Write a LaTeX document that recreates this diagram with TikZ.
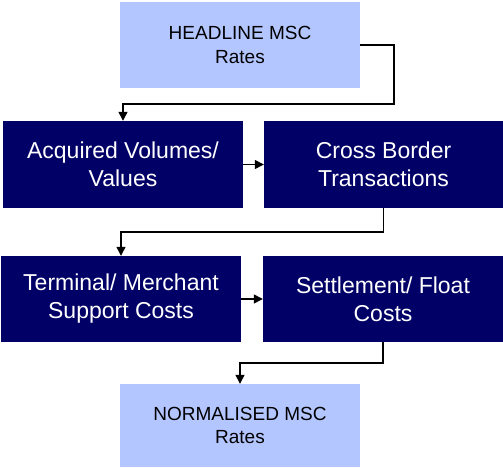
\documentclass[tikz,border=0pt]{standalone}
\usepackage{fontspec}
\setmainfont{Liberation Sans}
\usetikzlibrary{arrows.meta}
\definecolor{navybox}{HTML}{000066}
\definecolor{lightbox}{HTML}{B3C6FF}
\begin{document}
\begin{tikzpicture}[x=1pt,y=-1pt,
  darkbox/.style={rectangle,fill=navybox,text=white,inner sep=0pt,align=center,
    minimum width=240pt,minimum height=87pt,font=\fontsize{23}{28}\selectfont},
  lightbx/.style={rectangle,fill=lightbox,text=black,inner sep=0pt,align=center,
    minimum width=240pt,minimum height=86pt,font=\fontsize{19}{23.5}\selectfont},
  conn/.style={draw=black,line width=1.3pt,-{Triangle[length=9pt,width=9pt]}}]
\useasboundingbox (0,0) rectangle (503,468);
\node[lightbx] (top) at (240,45) {HEADLINE MSC\\Rates};
\node[darkbox] (A) at (123,164.5) {Acquired Volumes/\\Values};
\node[darkbox,minimum width=239pt] (B) at (383.5,164.5) {Cross Border\\Transactions};
\node[darkbox,minimum height=86pt] (C) at (121,299) {Terminal/ Merchant\\Support Costs};
\node[darkbox,minimum height=86pt] (D) at (383,299) {Settlement/ Float\\Costs};
\node[lightbx,minimum height=83pt] (bot) at (240,425.5) {NORMALISED MSC\\Rates};
\coordinate (t1) at (394,104);
\coordinate (t2) at (383.5,232);
\coordinate (t3) at (383,363);
\draw[conn] (top.east) -| (t1) -| (A.north);
\draw[conn] (A.east) -- (B.west);
\draw[conn] (B.south) -- (t2) -| (C.north);
\draw[conn] (C.east) -- (D.west);
\draw[conn] (D.south) -- (t3) -| (bot.north);
\end{tikzpicture}
\end{document}
